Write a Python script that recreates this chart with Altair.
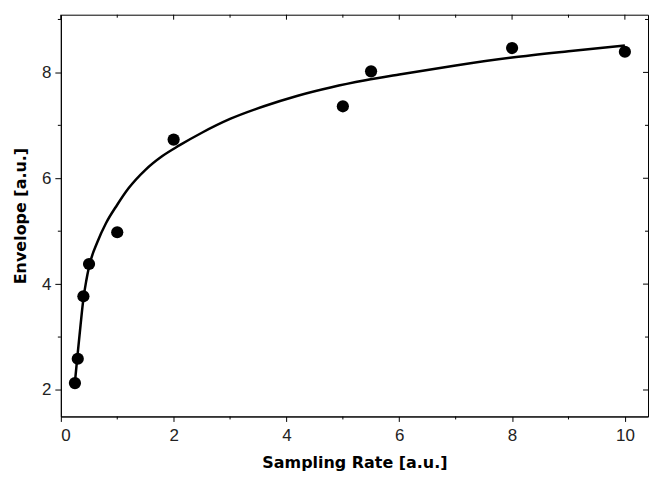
import altair as alt
import pandas as pd

# measured points
rate = [0.25, 0.3, 0.4, 0.5, 1, 2, 5, 5.5, 8, 10]
envelope = [2.13, 2.59, 3.77, 4.38, 4.98, 6.73, 7.36, 8.02, 8.46, 8.39]

# fitted curve
fit_x = [0.25, 0.30, 0.35, 0.40, 0.45, 0.50, 0.65, 0.80, 1.0, 1.2, 1.5, 1.8, 2.1, 2.5,
         3.0, 3.6, 4.2, 4.8, 5.4, 6.0, 7.0, 8.0, 9.0, 10.0]
fit_y = [2.15, 2.70, 3.23, 3.72, 4.06, 4.33, 4.80, 5.15, 5.50, 5.81, 6.16, 6.42, 6.62, 6.86,
         7.12, 7.36, 7.56, 7.72, 7.85, 7.96, 8.13, 8.28, 8.40, 8.51]

x_major = [0, 2, 4, 6, 8, 10]
x_minor = [1, 3, 5, 7, 9]
y_major = [2, 4, 6, 8]
y_minor = [3, 5, 7, 9]

W, H = 589, 403
XT = "Sampling Rate [a.u.]"
YT = "Envelope [a.u.]"
xs = alt.Scale(domain=[0, 10.41], nice=False, zero=False)
ys = alt.Scale(domain=[1.5, 9.09], nice=False, zero=False)

pts = pd.DataFrame({"x": rate, "y": envelope})
fit = pd.DataFrame({"x": fit_x, "y": fit_y})
xmaj = pd.DataFrame({"x": x_major})
xmin = pd.DataFrame({"x": x_minor})
ymaj = pd.DataFrame({"y": y_major})
ymin = pd.DataFrame({"y": y_minor})

X = alt.X("x:Q", scale=xs, title=XT,
          axis=alt.Axis(values=x_major, format="d", tickSize=5, labelPadding=6,
                        titlePadding=11, grid=False))
Y = alt.Y("y:Q", scale=ys, title=YT,
          axis=alt.Axis(values=y_major, format="d", tickSize=6, labelPadding=4,
                        titlePadding=13, grid=False))
Xn = alt.X("x:Q", scale=xs, title=XT)
Yn = alt.Y("y:Q", scale=ys, title=YT)

line = alt.Chart(fit).mark_line(color="black", strokeWidth=2.5, interpolate="monotone").encode(x=X, y=Y)
dots = alt.Chart(pts).mark_circle(size=150, color="black", opacity=1).encode(x=Xn, y=Yn)

rule = dict(color="black", strokeWidth=1)
top_maj = alt.Chart(xmaj).mark_rule(**rule).encode(x=Xn, y=alt.value(0), y2=alt.value(5))
top_min = alt.Chart(xmin).mark_rule(**rule).encode(x=Xn, y=alt.value(0), y2=alt.value(3))
bot_min = alt.Chart(xmin).mark_rule(**rule).encode(x=Xn, y=alt.value(H), y2=alt.value(H + 3))
right_maj = alt.Chart(ymaj).mark_rule(**rule).encode(y=Yn, x=alt.value(W - 5), x2=alt.value(W))
right_min = alt.Chart(ymin).mark_rule(**rule).encode(y=Yn, x=alt.value(W - 3), x2=alt.value(W))
left_min = alt.Chart(ymin).mark_rule(**rule).encode(y=Yn, x=alt.value(-3), x2=alt.value(0))

chart = alt.layer(line, dots, top_maj, top_min, bot_min, right_maj, right_min, left_min).properties(
    width=W, height=H,
    autosize=alt.AutoSizeParams(type="none"),
    padding={"left": 53, "top": 6, "right": 4, "bottom": 56},
).configure_view(stroke="black", strokeWidth=1).configure_axis(
    domainColor="black", domainWidth=1, tickColor="black", tickWidth=1,
    labelFont="Liberation Sans", labelFontSize=17, labelColor="#222",
    titleFont="DejaVu Sans", titleFontSize=16, titleFontWeight="bold", titleColor="black",
)

chart.save("out.html", embed_options={"renderer": "svg", "actions": False})
